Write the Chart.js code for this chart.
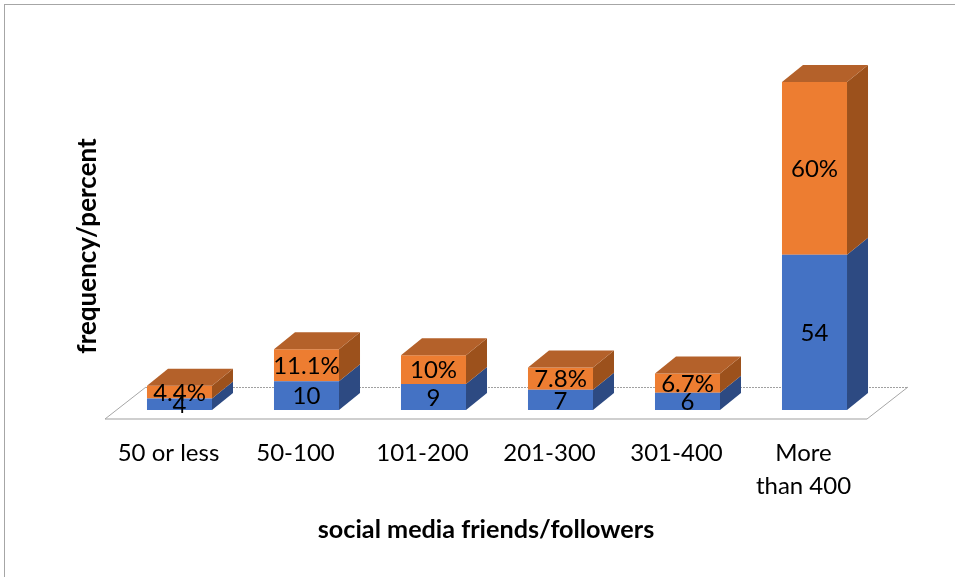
<!DOCTYPE html>
<html>
<head>
<meta charset="utf-8">
<script src="https://cdn.jsdelivr.net/npm/chart.js@4.4.1/dist/chart.umd.min.js"></script>
<style>
  html, body { margin: 0; padding: 0; background: #ffffff; }
  #wrap { position: relative; width: 955px; height: 577px; }
  #frame { position: absolute; left: 4px; top: 4px; right: 0; bottom: 0; border-left: 1px solid #a6a6a6; border-top: 1px solid #a6a6a6; pointer-events: none; }
  canvas { display: block; }
</style>
</head>
<body>
<div id="wrap">
  <canvas id="c" width="955" height="577"></canvas>
  <div id="frame"></div>
</div>
<script>
// ---- data ----
const categories = ["50 or less", "50-100", "101-200", "201-300", "301-400", ["More", "than 400"]];
const frequency = [4, 10, 9, 7, 6, 54];
const percent = [4.4, 11.1, 10, 7.8, 6.7, 60];
const xTitle = "social media friends/followers";
const yTitle = "frequency/percent";

const FONT = "Lato, 'Open Sans', sans-serif";
const DEPTH_X = 21, DEPTH_Y = -17;       // bar depth
const FLOOR_DX = 41, FLOOR_DY = -32;     // floor depth
const FLOOR_SHIFT_X = -11, FLOOR_SHIFT_Y = 9; // floor front edge relative to bar bases

const faceColors = [
  { side: "#2d4a82", top: "#3a62a8" },
  { side: "#9c511c", top: "#b4612a" }
];

const floorPlugin = {
  id: "floor3d",
  beforeDatasetsDraw(chart) {
    const { ctx, chartArea, scales } = chart;
    const y0 = scales.y.getPixelForValue(0);
    const fx1 = chartArea.left + FLOOR_SHIFT_X, fx2 = chartArea.right + FLOOR_SHIFT_X;
    const fy = y0 + FLOOR_SHIFT_Y;
    ctx.save();
    ctx.lineWidth = 1;
    // back edge (dotted)
    ctx.strokeStyle = "#a0a0a0";
    ctx.setLineDash([2, 1]);
    ctx.beginPath();
    ctx.moveTo(fx1 + FLOOR_DX, fy + FLOOR_DY + 0.5);
    ctx.lineTo(fx2 + FLOOR_DX, fy + FLOOR_DY + 0.5);
    ctx.stroke();
    ctx.setLineDash([]);
    // front edge
    ctx.strokeStyle = "#bfbfbf";
    ctx.lineWidth = 1.5;
    ctx.beginPath();
    ctx.moveTo(fx1, fy);
    ctx.lineTo(fx2, fy);
    ctx.stroke();
    // side diagonals
    ctx.strokeStyle = "#a6a6a6";
    ctx.lineWidth = 1;
    ctx.beginPath();
    ctx.moveTo(fx1, fy);
    ctx.lineTo(fx1 + FLOOR_DX, fy + FLOOR_DY);
    ctx.moveTo(fx2, fy);
    ctx.lineTo(fx2 + FLOOR_DX, fy + FLOOR_DY);
    ctx.stroke();
    ctx.restore();
  }
};

const bar3dPlugin = {
  id: "bar3d",
  afterDatasetsDraw(chart) {
    const { ctx } = chart;
    const nSets = chart.data.datasets.length;
    ctx.save();
    for (let d = 0; d < nSets; d++) {
      const meta = chart.getDatasetMeta(d);
      meta.data.forEach((el) => {
        const p = el.getProps(["x", "y", "base", "width"], true);
        const r = p.x + p.width / 2, l = p.x - p.width / 2;
        const top = Math.min(p.y, p.base), bot = Math.max(p.y, p.base);
        // side face
        ctx.fillStyle = faceColors[d].side;
        ctx.beginPath();
        ctx.moveTo(r, top);
        ctx.lineTo(r + DEPTH_X, top + DEPTH_Y);
        ctx.lineTo(r + DEPTH_X, bot + DEPTH_Y);
        ctx.lineTo(r, bot);
        ctx.closePath();
        ctx.fill();
        // top face only on the top-most segment
        if (d === nSets - 1) {
          ctx.fillStyle = faceColors[d].top;
          ctx.beginPath();
          ctx.moveTo(l, top);
          ctx.lineTo(l + DEPTH_X, top + DEPTH_Y);
          ctx.lineTo(r + DEPTH_X, top + DEPTH_Y);
          ctx.lineTo(r, top);
          ctx.closePath();
          ctx.fill();
        }
      });
    }
    ctx.restore();
  },
  afterDraw(chart) {
    // data labels, centred in each segment
    const { ctx } = chart;
    ctx.save();
    ctx.fillStyle = "#000000";
    ctx.font = "24px " + FONT;
    ctx.textAlign = "center";
    ctx.textBaseline = "middle";
    chart.data.datasets.forEach((ds, d) => {
      const meta = chart.getDatasetMeta(d);
      meta.data.forEach((el, i) => {
        const p = el.getProps(["x", "y", "base"], true);
        const txt = ds.data[i] + (ds.suffix || "");
        ctx.fillText(txt, p.x, (p.y + p.base) / 2 + 1);
      });
    });
    ctx.restore();
  }
};

const shiftTitlePlugin = {
  id: "shiftXTitle",
  afterLayout(chart) {
    // the category title sits under the floor front edge, not under the bar fronts
    const xs = chart.scales.x;
    xs.left += 2 * FLOOR_SHIFT_X;
  }
};

new Chart(document.getElementById("c"), {
  type: "bar",
  data: {
    labels: categories,
    datasets: [
      { label: "frequency", data: frequency, backgroundColor: "#4472c4", borderWidth: 0 },
      { label: "percent", data: percent, suffix: "%", backgroundColor: "#ed7d31", borderWidth: 0 }
    ]
  },
  options: {
    responsive: false,
    animation: false,
    events: [],
    layout: { padding: { top: 82, right: 77, left: 72.4, bottom: 0 } },
    plugins: { legend: { display: false }, tooltip: { enabled: false } },
    datasets: { bar: { categoryPercentage: 1, barPercentage: 0.512 } },
    scales: {
      x: {
        stacked: true,
        grid: { display: false, drawTicks: false },
        border: { display: false },
        ticks: { color: "#000000", font: { family: FONT, size: 24, lineHeight: 1.38 }, padding: 27, labelOffset: FLOOR_SHIFT_X, maxRotation: 0, autoSkip: false },
        title: { display: true, text: xTitle, color: "#000000", font: { family: FONT, size: 25.2, weight: "bold", lineHeight: 1.2 }, padding: { top: 0, bottom: 32 } },
        afterFit(s) { s.height = 167; }
      },
      y: {
        stacked: true,
        min: 0,
        max: 114,
        grid: { display: false, drawTicks: false },
        border: { display: false },
        ticks: { display: false },
        title: { display: true, text: yTitle, color: "#000000", font: { family: FONT, size: 26, weight: "bold", lineHeight: 1.2 }, padding: { top: 0, bottom: 0 } },
        afterFit(s) { s.width = 43.6; }
      }
    }
  },
  plugins: [floorPlugin, bar3dPlugin, shiftTitlePlugin]
});
</script>
</body>
</html>
